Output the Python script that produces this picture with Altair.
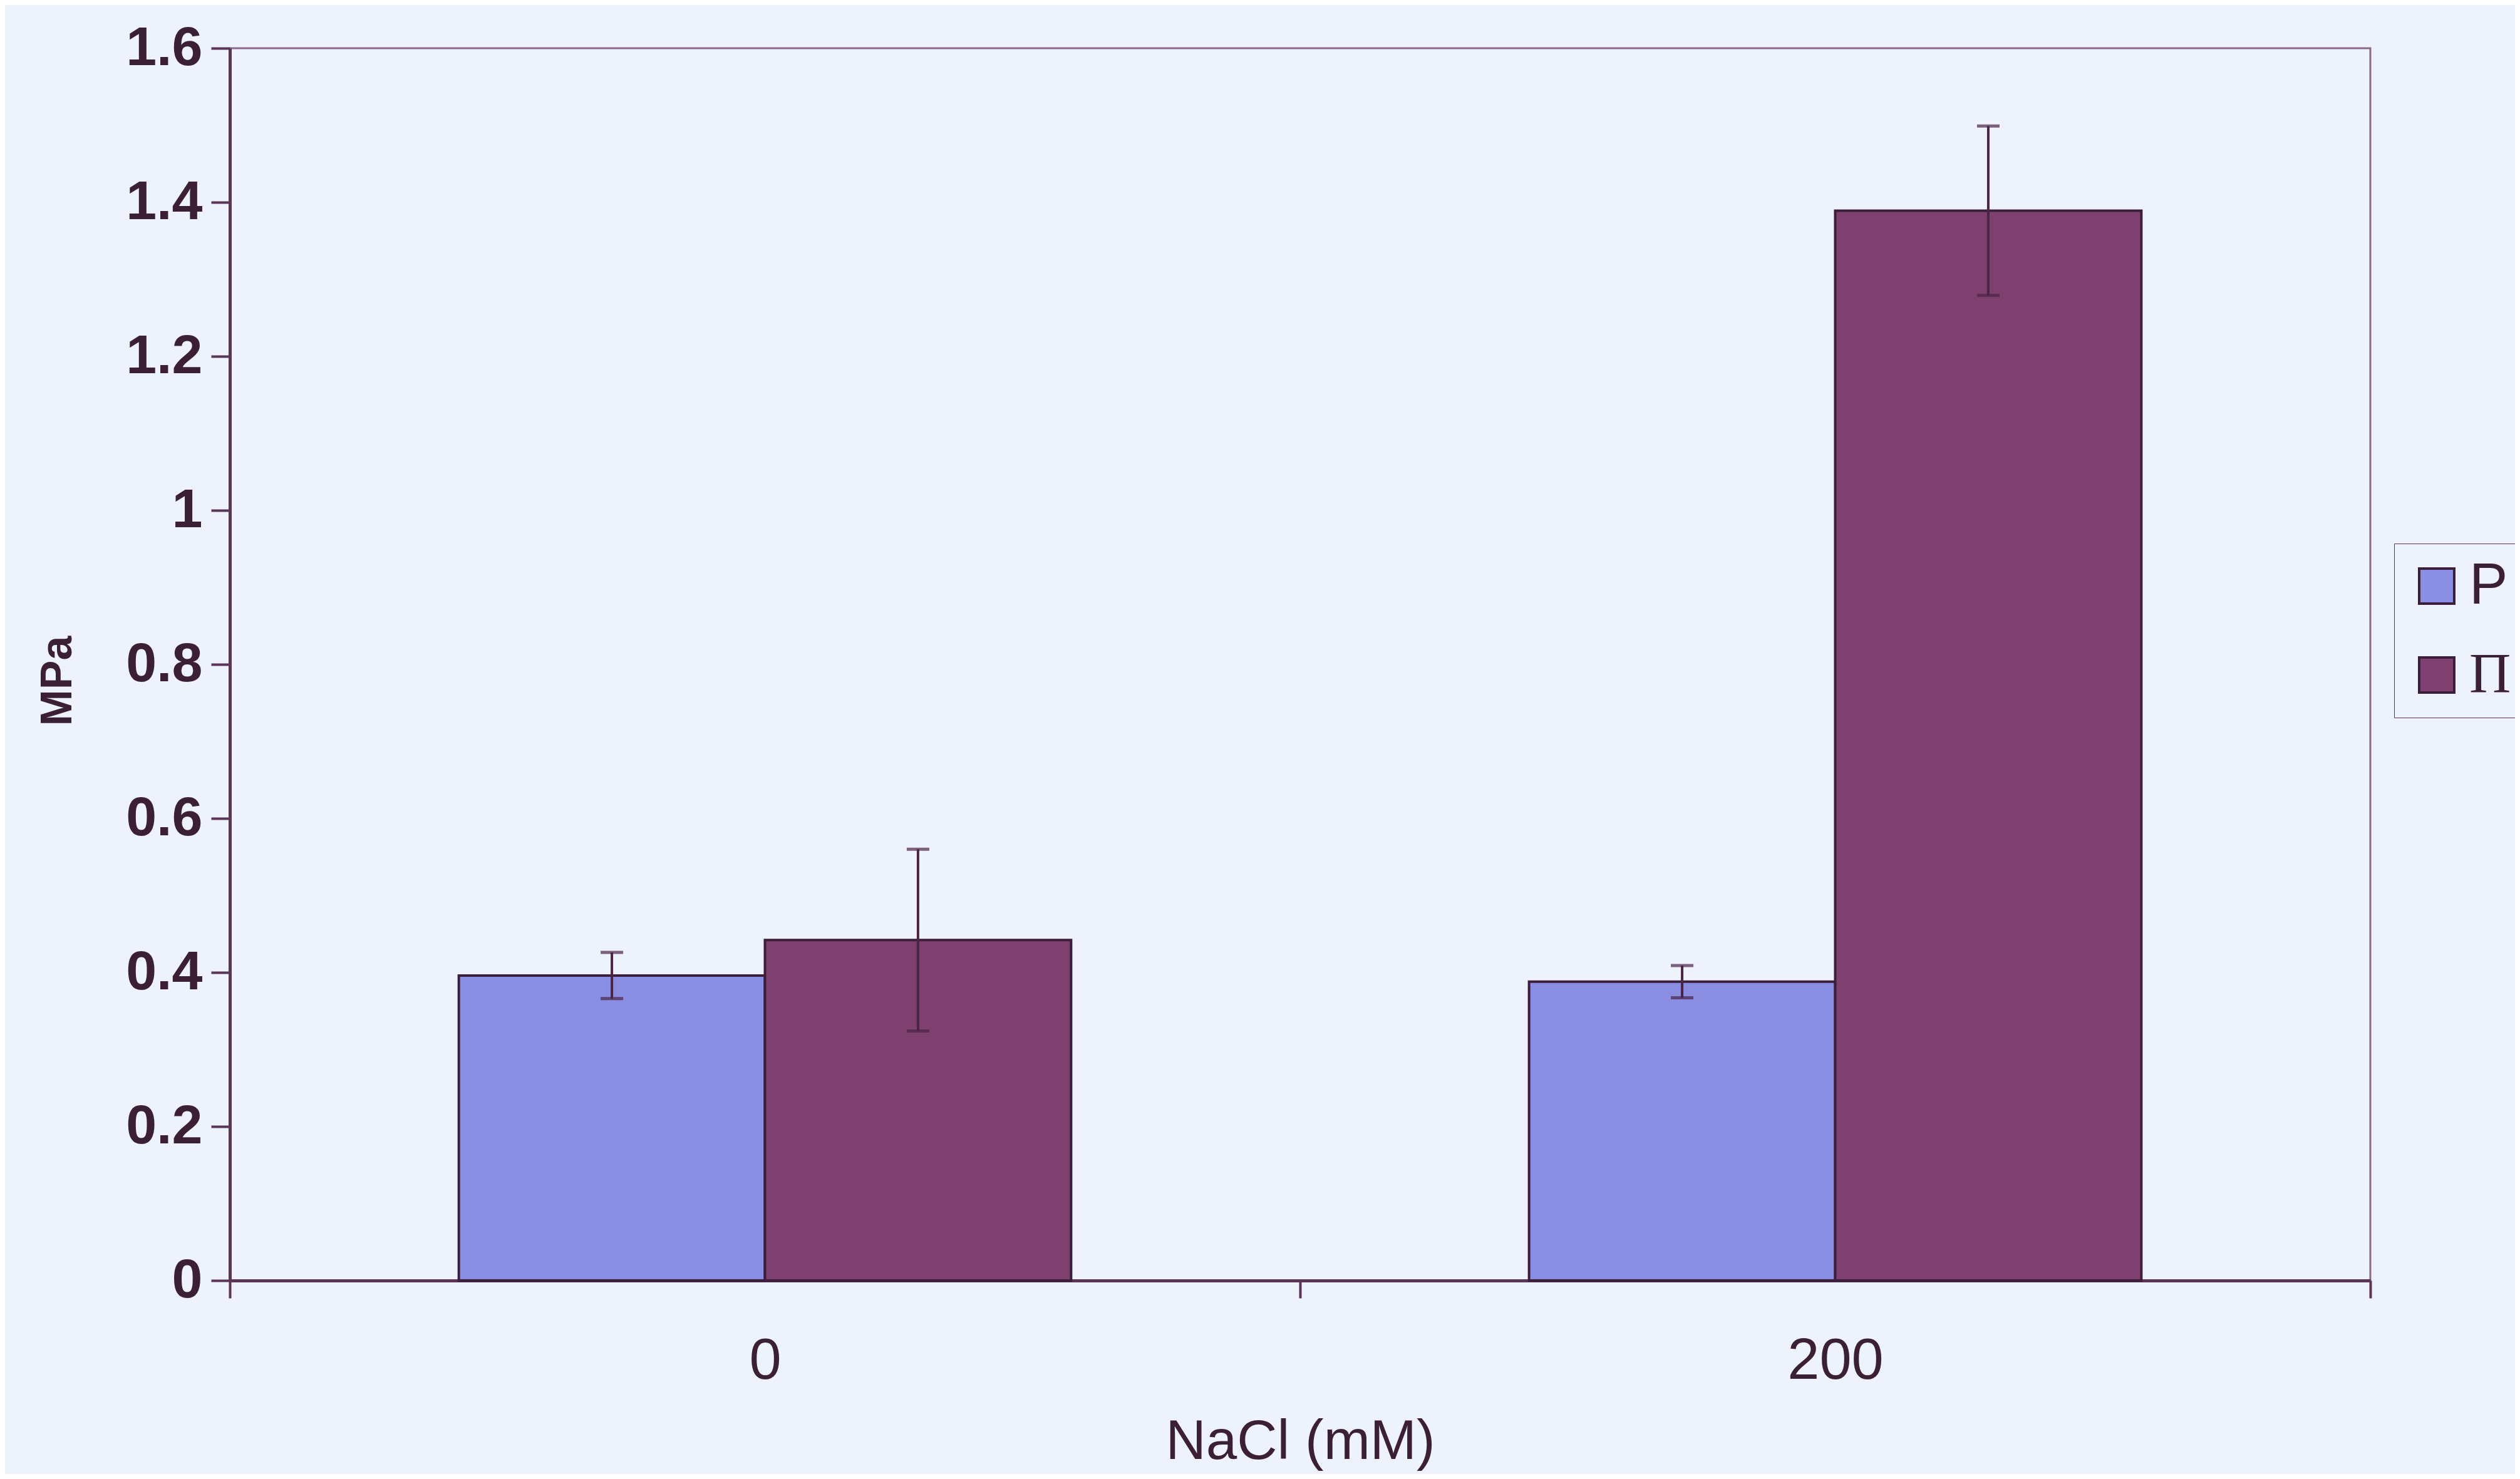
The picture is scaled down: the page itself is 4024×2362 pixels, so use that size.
import altair as alt
import pandas as pd

categories = ["0", "200"]
series = ["P", "Π"]
p_values = [0.396, 0.388]
pi_values = [0.442, 1.389]
p_errors = [0.030, 0.021]
pi_errors = [0.118, 0.110]
y_ticks = [0, 0.2, 0.4, 0.6, 0.8, 1.0, 1.2, 1.4, 1.6]
colors = ["#8a8ee2", "#7e416f"]

rows = []
for i, c in enumerate(categories):
    rows.append(dict(nacl=c, series="P", value=p_values[i], err=p_errors[i]))
    rows.append(dict(nacl=c, series="Π", value=pi_values[i], err=pi_errors[i]))
df = pd.DataFrame(rows)
df["lo"] = df["value"] - df["err"]
df["hi"] = df["value"] + df["err"]

FONT = "Liberation Sans"
TXT = "#3a1f35"
DARK = "#4a2444"
AXC = "#5a3556"

x_enc = alt.X(
    "nacl:N",
    sort=categories,
    scale=alt.Scale(paddingInner=0, paddingOuter=0),
    axis=alt.Axis(
        title="NaCl (mM)", labelAngle=0, tickBand="extent", labelFontSize=92,
        titleFontSize=89, labelPadding=55, titlePadding=40, tickSize=28,
        tickWidth=4, domainWidth=5, labelFont=FONT, titleFont=FONT,
        labelColor=TXT, titleColor=TXT, domainColor=AXC, tickColor=AXC,
        titleFontWeight="normal",
    ),
)
xo_enc = alt.XOffset("series:N", sort=series,
                     scale=alt.Scale(paddingInner=0, paddingOuter=0.748))

base = alt.Chart(df).encode(x=x_enc, xOffset=xo_enc)

bars = base.mark_bar(stroke="#3b1e3b", strokeWidth=4).encode(
    y=alt.Y(
        "value:Q",
        scale=alt.Scale(domain=[0, 1.6], nice=False),
        axis=alt.Axis(
            title="MPa", values=y_ticks, format=".1~f", labelFontSize=88,
            labelFontWeight="bold", titleY=1010,
            titleFontSize=70, tickSize=30, tickWidth=4, domainWidth=5,
            labelPadding=14, titlePadding=72, grid=False, labelFont=FONT,
            titleFont=FONT, labelColor=TXT, titleColor=TXT,
            domainColor=AXC, tickColor=AXC, titleFontWeight="bold",
        ),
    ),
    color=alt.Color(
        "series:N",
        sort=series,
        scale=alt.Scale(domain=series, range=colors),
        legend=alt.Legend(
            title=None, orient="none", legendX=3456, legendY=791,
            symbolType="square", symbolSize=3136, symbolStrokeColor="#3b1e3b",
            symbolStrokeWidth=4, labelFontSize=92,
            labelFont=alt.ExprRef(expr="datum.label == 'P' ? 'Liberation Sans' : 'Liberation Serif'"),
            labelColor=TXT, rowPadding=50, padding=22, strokeColor=AXC,
            fillColor="#eef2fb", labelOffset=6,
        ),
    ),
)

rules = base.mark_rule(color=DARK, strokeWidth=4).encode(
    y="lo:Q", y2="hi:Q"
)
cap_lo = base.mark_tick(orient="horizontal", size=36, thickness=5, color=DARK).encode(y="lo:Q")
cap_hi = base.mark_tick(orient="horizontal", size=36, thickness=5, color=DARK).encode(y="hi:Q")

chart = (
    alt.layer(bars, rules, cap_lo, cap_hi)
    .properties(
        width=3418, height=1968,
        autosize=alt.AutoSizeParams(type="none"),
        padding={"left": 359, "top": 69, "right": 231, "bottom": 309},
        background="#eef2fb",
    )
    .configure_view(stroke="#8a6a8a", strokeWidth=3)
)

chart.save("out.html", embed_options={"renderer": "svg", "actions": False})
